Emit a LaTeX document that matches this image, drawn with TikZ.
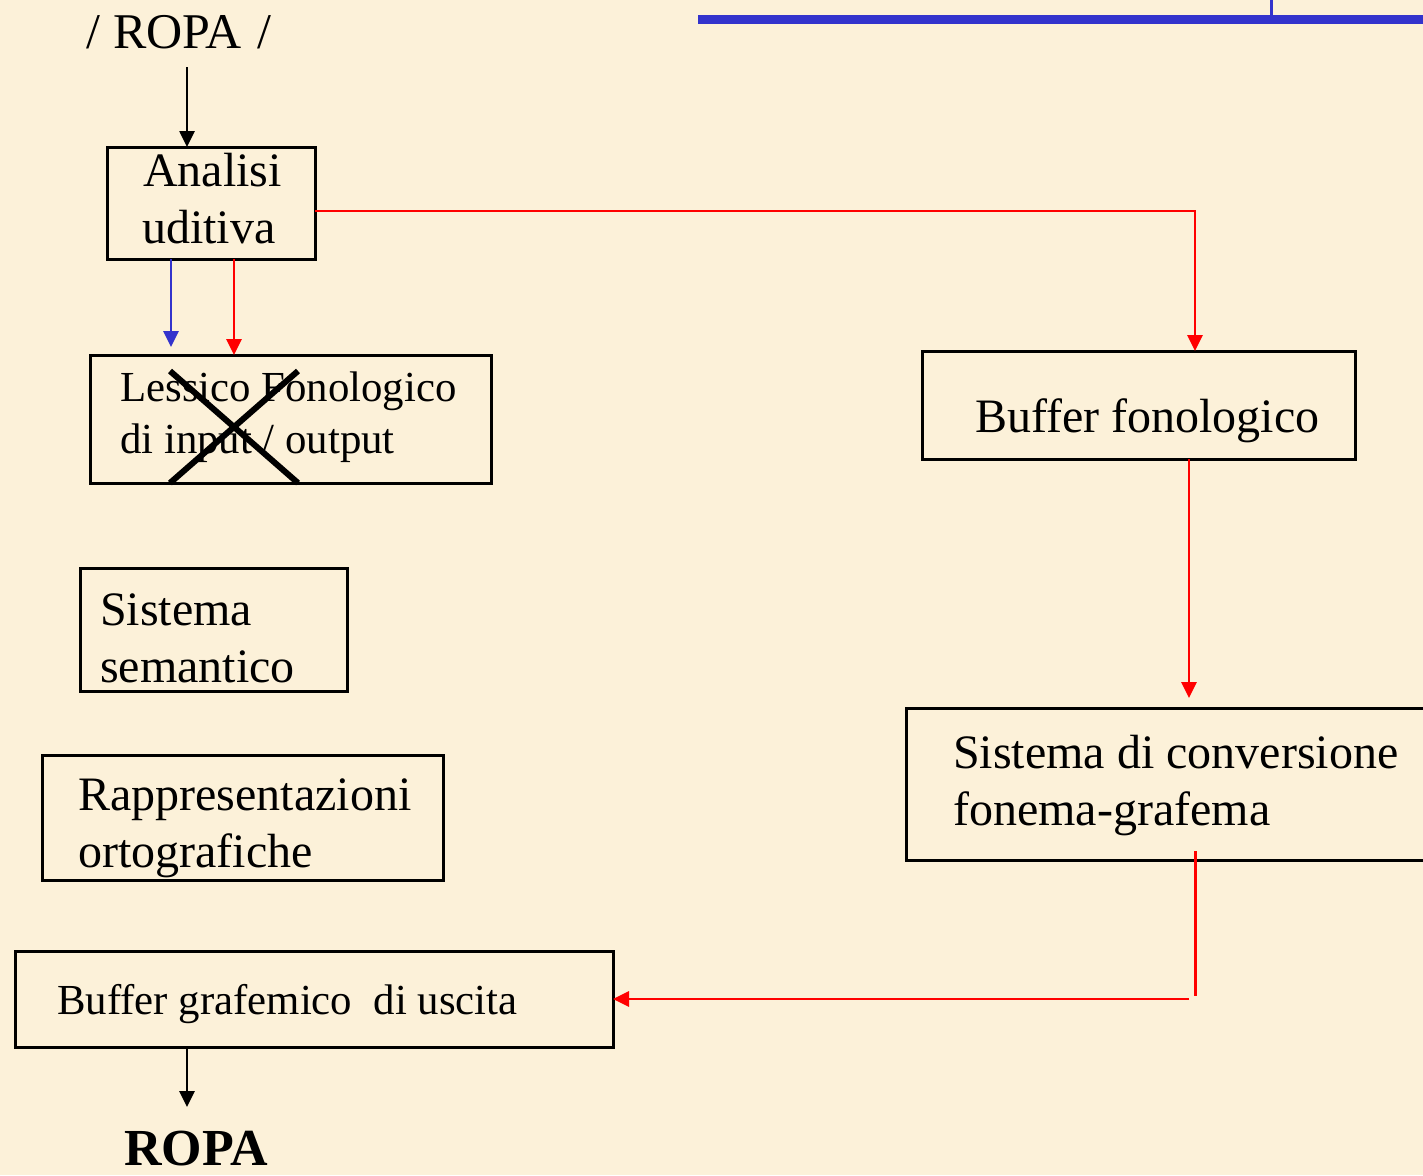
\documentclass[tikz,border=0pt]{standalone}
\usepackage{fontspec}
\setmainfont{Liberation Serif}
\usetikzlibrary{arrows.meta}
\definecolor{parchment}{RGB}{252,241,217}
\definecolor{inkblue}{RGB}{51,51,204}
\definecolor{inkred}{RGB}{255,0,0}
\begin{document}
\begin{tikzpicture}[x=1pt,y=-1pt,
  box/.style={draw=black, line width=3pt, anchor=north west,
    inner sep=0pt, outer sep=0pt},
  big/.style={font=\fontsize{48}{57}\selectfont},
  small/.style={font=\fontsize{42.8}{52}\selectfont},
  lbl/.style={anchor=base west, inner sep=0pt, align=left},
  tip/.style={-{Triangle[width=15pt,length=16pt]}},
  blackarrow/.style={draw=black, line width=2.6pt, tip},
  redarrow/.style={draw=inkred, line width=2.8pt, tip},
  redline/.style={draw=inkred, line width=3pt},
  bluearrow/.style={draw=inkblue, line width=2.8pt, tip},
]
% page and background
\clip (0,0) rectangle (1423,1175);
\fill[parchment] (0,0) rectangle (1423,1175);

% title rule at the top
\fill[inkblue] (698,15) rectangle (1430,24);
\draw[inkblue, line width=3pt] (1271,0) -- (1271,16);

% boxes
\node[box, minimum width=208pt, minimum height=112pt] (analisi) at (107,147) {};
\node[box, minimum width=401pt, minimum height=128pt] (lessico) at (90,355) {};
\node[box, minimum width=267pt, minimum height=123pt] (semantico) at (80,568) {};
\node[box, minimum width=401pt, minimum height=125pt] (orto) at (42,755) {};
\node[box, minimum width=598pt, minimum height=96pt] (bufgraf) at (15,951) {};
\node[box, minimum width=433pt, minimum height=108pt] (bufon) at (922,351) {};
\node[box, minimum width=560pt, minimum height=152pt] (conv) at (906,708) {};

% texts (a multi-line label sits on the baseline of its last line)
\node[lbl, font=\fontsize{50}{60}\selectfont] (input) at (86,48) {/\hspace{13pt}ROPA\hspace{16pt}/};
\node[lbl, big] (analisi-t) at (143,243) {Analisi\\\hspace*{-1pt}uditiva};
\node[lbl, small] (lessico-t) at (120,453) {Lessico Fonologico\\di input / output};
\node[lbl, big] (semantico-t) at (100,682) {Sistema\\semantico};
\node[lbl, big] (orto-t) at (78,867) {Rappresentazioni\\ortografiche};
\node[lbl, small] (bufgraf-t) at (57,1014) {Buffer grafemico \ di uscita};
\node[lbl, big] (bufon-t) at (975,432) {Buffer fonologico};
\node[lbl, big] (conv-t) at (953,825) {Sistema di conversione\\fonema-grafema};
\node[lbl, font=\bfseries\fontsize{52}{60}\selectfont] (output) at (124,1165) {ROPA};

% crossed-out lexicon
\draw[line width=6pt] (170,371) -- (298,483);
\draw[line width=6pt] (298,371) -- (170,483);

% connectors
\coordinate (inTop) at (187,67);
\draw[blackarrow] (inTop) -- (inTop |- analisi.north);

\coordinate (blueEnd) at (171,347);
\draw[bluearrow] (analisi.south -| blueEnd) -- (blueEnd);
\coordinate (redDown) at (234,0);
\draw[redarrow] (analisi.south -| redDown) -- (lessico.north -| redDown);

\coordinate (j1) at (1195,211);
\draw[redarrow] (analisi.east |- j1) -- (j1) -- (bufon.north -| j1);

\coordinate (j2) at (1189,698);
\draw[redarrow] (bufon.south -| j2) -- (j2);

\coordinate (j3) at (1195,851);
\coordinate (j4) at (1195,996);
\draw[redline] (j3) -- (j4);
\coordinate (j5) at (1189,999);
\draw[redarrow] (j5) -- (bufgraf.east |- j5);

\coordinate (outEnd) at (187,1107);
\draw[blackarrow] (bufgraf.south -| outEnd) -- (outEnd);
\end{tikzpicture}
\end{document}
